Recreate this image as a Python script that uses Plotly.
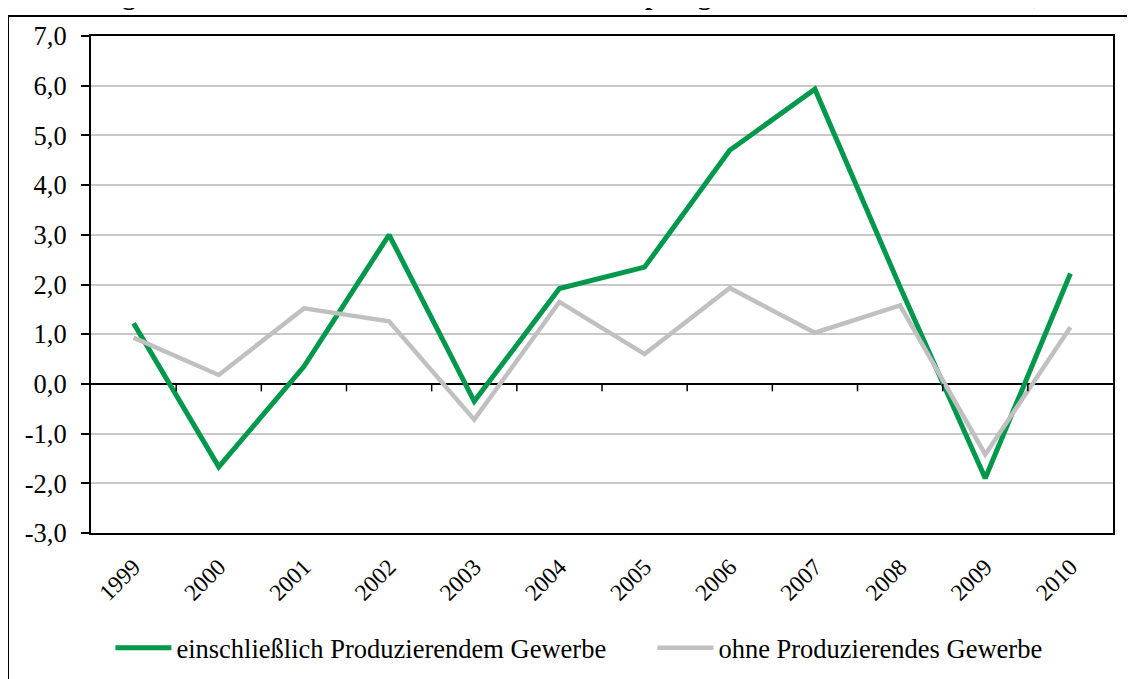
import plotly.graph_objects as go

years = ["1999", "2000", "2001", "2002", "2003", "2004", "2005", "2006", "2007", "2008", "2009", "2010"]
mit_pg = [1.22, -1.67, 0.35, 3.0, -0.35, 1.92, 2.35, 4.7, 5.93, 1.95, -1.9, 2.22]
ohne_pg = [0.93, 0.18, 1.52, 1.26, -0.72, 1.65, 0.6, 1.93, 1.03, 1.58, -1.42, 1.14]
y_tickvals = [-3, -2, -1, 0, 1, 2, 3, 4, 5, 6, 7]
y_ticktext = ["-3,0", "-2,0", "-1,0", "0,0", "1,0", "2,0", "3,0", "4,0", "5,0", "6,0", "7,0"]
name_mit = "einschließlich Produzierendem Gewerbe"
name_ohne = "ohne Produzierendes Gewerbe"
title = "Abbildung 1: Wachstum der nominalen Bruttowertschöpfung in der Lausitz 1999 bis 2010, in %"

FONT = "Liberation Serif"
GREEN = "#00984A"
GREY = "#C0C0C0"

fig = go.Figure()
fig.add_trace(go.Scatter(x=years, y=mit_pg, mode="lines", name=name_mit,
                         line=dict(color=GREEN, width=5), legend="legend"))
fig.add_trace(go.Scatter(x=years, y=ohne_pg, mode="lines", name=name_ohne,
                         line=dict(color=GREY, width=4.5), legend="legend2"))

shapes = []
# category boundary ticks on zero line
for i in range(len(years) - 1):
    shapes.append(dict(type="line", xref="x", yref="y", x0=i + 0.5, x1=i + 0.5,
                       y0=0, y1=-0.15, line=dict(color="black", width=1.5)))
# outer frame
shapes.append(dict(type="rect", xref="paper", yref="paper", x0=-0.0812, x1=1.06,
                   y0=-0.4, y1=1.040, line=dict(color="black", width=2),
                   fillcolor="rgba(0,0,0,0)", layer="below"))

legend_common = dict(orientation="h", yref="container", y=0.0462,
                     xanchor="left", yanchor="middle",
                     font=dict(family=FONT, size=26.5, color="black"),
                     itemwidth=56, bgcolor="rgba(0,0,0,0)")

fig.update_layout(
    width=1127, height=671,
    margin=dict(l=83, r=22, t=28, b=146, autoexpand=False),
    paper_bgcolor="white", plot_bgcolor="white",
    font=dict(family=FONT, size=22, color="black"),
    showlegend=True,
    legend=dict(x=0.019, **legend_common),
    legend2=dict(x=0.5493, **legend_common),
    shapes=shapes,
    annotations=[dict(text="<b>" + title + "</b>", xref="paper", yref="paper",
                      x=-0.0763, y=1.048, xanchor="left", yanchor="bottom",
                      showarrow=False, font=dict(family=FONT, size=26.5, color="black"))],
)

fig.update_xaxes(type="category", range=[-0.5, len(years) - 0.5], automargin=False,
                 showline=True, linecolor="black", linewidth=2, mirror=True,
                 showgrid=False, ticks="", tickangle=-45, ticklabelstandoff=9,
                 tickfont=dict(family=FONT, size=23.5, color="black"))
fig.update_yaxes(range=[-3, 7], tickvals=y_tickvals, ticktext=y_ticktext, automargin=False,
                 showline=True, linecolor="black", linewidth=2, mirror=True,
                 showgrid=True, gridcolor="#C8C8C8", gridwidth=1.5,
                 zeroline=True, zerolinecolor="black", zerolinewidth=1.5,
                 ticks="outside", ticklen=8, tickwidth=1.5, tickcolor="black",
                 ticklabelstandoff=9,
                 tickfont=dict(family=FONT, size=26.5, color="black"))

fig.write_html("out.html")
